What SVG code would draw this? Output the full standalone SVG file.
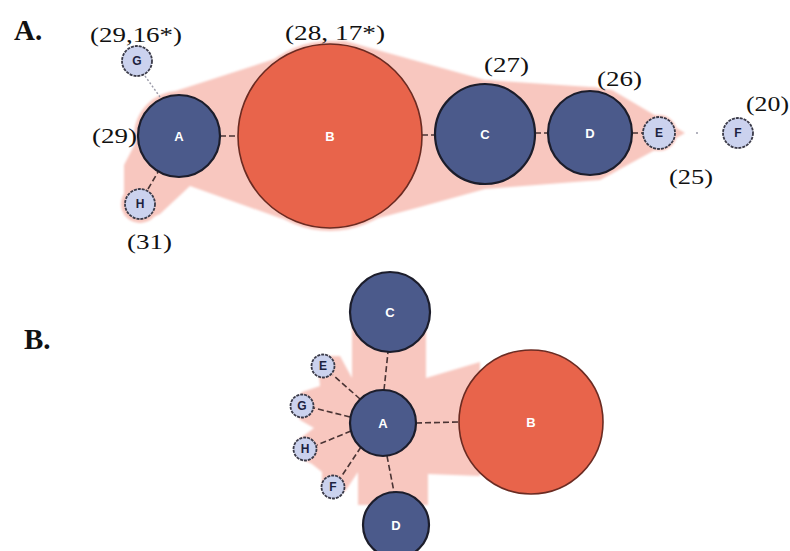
<svg xmlns="http://www.w3.org/2000/svg" width="790" height="551" viewBox="0 0 790 551">
<defs>
<style>
.hull{fill:#f8c7bf;stroke:none}
.big{fill:#4b5a8b;stroke:#1c1d2b;stroke-width:2.2}
.red{fill:#e8644b;stroke:#6b2b22;stroke-width:1.6}
.sat{fill:#cbd2ee;stroke:#3a3a48;stroke-width:1.8;stroke-dasharray:3 1}
.lbl{font-family:"Liberation Sans",Arial,sans-serif;font-weight:bold;font-size:13px;fill:#ffffff;text-anchor:middle}
.slbl{font-family:"Liberation Sans",Arial,sans-serif;font-weight:bold;font-size:12px;fill:#1c2240;text-anchor:middle}
.num{font-family:"Liberation Serif","Times New Roman",serif;font-size:22px;fill:#111111}
.pan{font-family:"Liberation Serif","Times New Roman",serif;font-weight:bold;font-size:29px;fill:#111111}
.edge{stroke:#4a3434;stroke-width:1.6;stroke-dasharray:6 3;fill:none}
.faint{stroke:#9a9aa8;stroke-width:1.4;stroke-dasharray:2 2;fill:none}
</style>
<filter id="soft" x="-5%" y="-5%" width="110%" height="110%"><feGaussianBlur stdDeviation="1.2"/></filter>
</defs>
<rect width="790" height="551" fill="#ffffff"/>

<g id="hull-a" filter="url(#soft)">
<polygon class="hull" points="157,97 262,63 330,41 345,41 485,80 590,87 612,90 685,133 655,150 600,180 485,189 420,207 330,231 280,218 190,186 160,214 140,223 124,215 124,165 137,140 150,110"/>
<circle class="hull" cx="179" cy="136" r="45"/>
<circle class="hull" cx="330" cy="136" r="95"/>
<circle class="hull" cx="485" cy="134" r="54"/>
<circle class="hull" cx="590" cy="133" r="46"/>
<circle class="hull" cx="659" cy="133" r="18"/>
<circle class="hull" cx="140" cy="204" r="19"/>
</g>

<g id="hull-b" filter="url(#soft)">
<polygon class="hull" points="352,320 352,378 340,356 328,356 318,366 320,386 302,392 294,404 300,420 314,428 298,440 296,456 312,464 322,472 322,488 332,498 346,490 358,472 358,505 428,505 428,474 480,476 480,362 426,378 426,320"/>
</g>

<g id="connectors">
<line class="edge" x1="220" y1="136" x2="238" y2="136"/>
<line class="edge" x1="422" y1="135" x2="435" y2="135"/>
<line class="edge" x1="535" y1="133" x2="548" y2="133"/>
<line class="edge" x1="632" y1="133" x2="643" y2="133"/>
<line class="faint" x1="145" y1="76" x2="160" y2="97"/>
<line class="edge" x1="148" y1="189" x2="158" y2="172"/>
<line class="faint" x1="696" y1="133" x2="700" y2="133"/>
<line class="edge" x1="384" y1="390" x2="388" y2="352"/>
<line class="edge" x1="387" y1="456" x2="394" y2="492"/>
<line class="edge" x1="416" y1="423" x2="459" y2="422"/>
<line class="edge" x1="360" y1="399" x2="333" y2="375"/>
<line class="edge" x1="350" y1="417" x2="314" y2="408"/>
<line class="edge" x1="351" y1="431" x2="317" y2="445"/>
<line class="edge" x1="361" y1="447" x2="341" y2="477"/>
</g>

<g id="a-A"><circle class="big" cx="179" cy="136" r="41"/><text class="lbl" x="179" y="141">A</text></g>
<g id="a-B"><circle class="red" cx="330" cy="136" r="92"/><text class="lbl" x="330" y="141">B</text></g>
<g id="a-C"><circle class="big" cx="485" cy="134" r="50"/><text class="lbl" x="485" y="139">C</text></g>
<g id="a-D"><circle class="big" cx="590" cy="133" r="42"/><text class="lbl" x="590" y="138">D</text></g>
<g id="a-E"><circle class="sat" cx="659" cy="133" r="16"/><text class="slbl" x="659" y="137">E</text></g>
<g id="a-F"><circle class="sat" cx="738" cy="133" r="15"/><text class="slbl" x="738" y="137">F</text></g>
<g id="a-G"><circle class="sat" cx="137" cy="61" r="15"/><text class="slbl" x="137" y="65">G</text></g>
<g id="a-H"><circle class="sat" cx="140" cy="204" r="15"/><text class="slbl" x="140" y="208">H</text></g>

<g id="b-C"><circle class="big" cx="390" cy="312" r="40"/><text class="lbl" x="390" y="317" font-size="11">C</text></g>
<g id="b-A"><circle class="big" cx="383" cy="423" r="33"/><text class="lbl" x="383" y="428" font-size="11">A</text></g>
<g id="b-D"><circle class="big" cx="396" cy="525" r="33"/><text class="lbl" x="396" y="530" font-size="11">D</text></g>
<g id="b-B"><circle class="red" cx="531" cy="422" r="72"/><text class="lbl" x="531" y="427" font-size="11">B</text></g>
<g id="b-E"><circle class="sat" cx="323" cy="366" r="11.5"/><text class="slbl" x="323" y="370" font-size="10.5">E</text></g>
<g id="b-G"><circle class="sat" cx="302" cy="406" r="11.5"/><text class="slbl" x="302" y="410" font-size="10.5">G</text></g>
<g id="b-H"><circle class="sat" cx="305" cy="449" r="11.5"/><text class="slbl" x="305" y="453" font-size="10.5">H</text></g>
<g id="b-F"><circle class="sat" cx="333" cy="487" r="11.5"/><text class="slbl" x="333" y="491" font-size="10.5">F</text></g>

<g id="labels">
<text class="pan" x="14" y="40">A.</text>
<text class="pan" x="24" y="349">B.</text>
<text class="num" x="90" y="42" textLength="92" lengthAdjust="spacingAndGlyphs">(29,16*)</text>
<text class="num" x="285" y="40" textLength="100" lengthAdjust="spacingAndGlyphs">(28, 17*)</text>
<text class="num" x="92" y="143" textLength="45" lengthAdjust="spacingAndGlyphs">(29)</text>
<text class="num" x="127" y="249" textLength="45" lengthAdjust="spacingAndGlyphs">(31)</text>
<text class="num" x="484" y="72" textLength="45" lengthAdjust="spacingAndGlyphs">(27)</text>
<text class="num" x="597" y="86" textLength="45" lengthAdjust="spacingAndGlyphs">(26)</text>
<text class="num" x="746" y="111" textLength="43" lengthAdjust="spacingAndGlyphs">(20)</text>
<text class="num" x="669" y="184" textLength="44" lengthAdjust="spacingAndGlyphs">(25)</text>
</g>
</svg>
